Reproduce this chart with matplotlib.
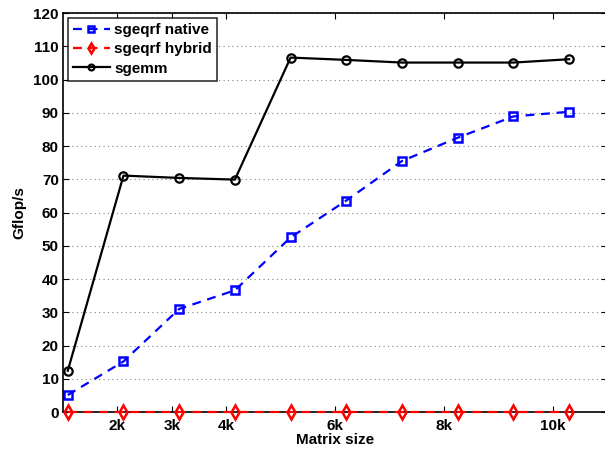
import numpy as np
import matplotlib
matplotlib.use('Agg')
import matplotlib.pyplot as plt

plt.rcParams['font.family'] = ['Liberation Sans', 'DejaVu Sans']
plt.rcParams['font.weight'] = 'bold'

sizes = [1088, 2112, 3136, 4160, 5184, 6208, 7232, 8256, 9280, 10304]
native = [5.1, 15.2, 31.0, 36.6, 52.5, 63.6, 75.5, 82.5, 88.9, 90.3]
hybrid = [0, 0, 0, 0, 0, 0, 0, 0, 0, 0]
sgemm = [12.4, 71.1, 70.4, 69.9, 106.6, 105.9, 105.1, 105.1, 105.1, 106.1]

xticks = [2000, 3000, 4000, 6000, 8000, 10000]
xticklabels = ['2k', '3k', '4k', '6k', '8k', '10k']

fig = plt.figure(figsize=(6.05, 4.49), dpi=100)
ax = fig.add_axes([0.1041, 0.0824, 0.8992, 0.8886])

ax.plot(sizes, native, '--s', color='blue', lw=1.6, dashes=(4, 3),
        ms=6, mfc='none', mew=1.8, label='sgeqrf native')
ax.plot(sizes, hybrid, '--d', color='red', lw=1.6, dashes=(4, 3),
        ms=7, mfc='none', mew=1.8, label='sgeqrf hybrid', clip_on=False, zorder=3)
ax.plot(sizes, sgemm, '-o', color='black', lw=1.6,
        ms=6, mfc='none', mew=1.6, label='sgemm')

ax.set_xlim(1000, 11000)
ax.set_ylim(0, 120)
ax.set_xticks(xticks)
ax.set_xticklabels(xticklabels)
ax.set_yticks(np.arange(0, 121, 10))
ax.yaxis.grid(True, linestyle=(0, (1, 3)), color='gray', lw=0.8)
ax.set_axisbelow(True)
ax.tick_params(direction='in', top=True, right=True, length=4, width=0.8,
               labelsize=11)
ax.tick_params(axis='y', pad=3)
ax.tick_params(axis='x', pad=5)
for s in ax.spines.values():
    s.set_linewidth(1.2)

ax.set_xlabel('Matrix size', fontsize=11, fontweight='bold', labelpad=0)
ax.set_ylabel('Gflop/s', fontsize=11, fontweight='bold', labelpad=5)

leg = ax.legend(loc='upper left', fontsize=11, frameon=True, fancybox=False,
                edgecolor='black', borderaxespad=0.3, handlelength=2.4,
                borderpad=0.35, labelspacing=0.35, handletextpad=0.3,
                markerscale=0.7)
leg.get_frame().set_linewidth(1.2)
for t in leg.get_texts():
    t.set_fontweight('bold')

fig.savefig('out.png', dpi=100)
